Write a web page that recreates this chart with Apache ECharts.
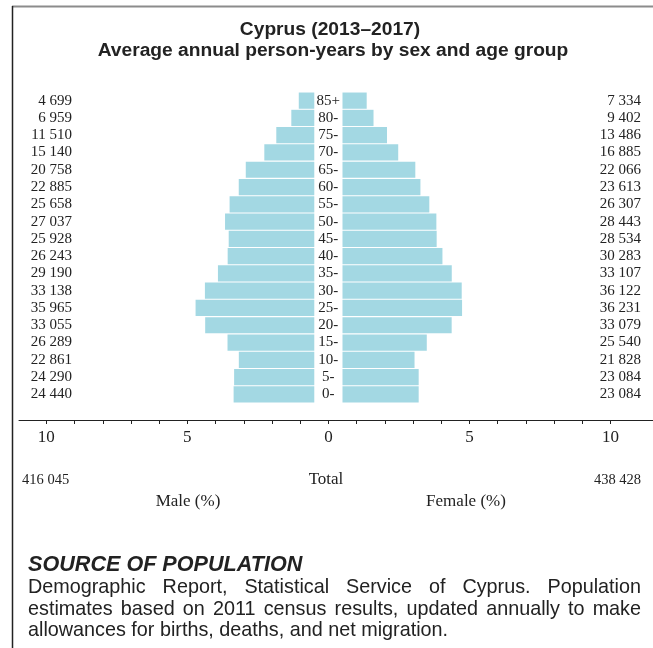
<!DOCTYPE html>
<html><head><meta charset="utf-8">
<script src="https://cdn.jsdelivr.net/npm/echarts@6/dist/echarts.min.js"></script>
<style>html,body{margin:0;padding:0;background:#fff}#c{width:653px;height:648px}</style>
</head><body><div id="c"></div>
<script>
// ---- data ----
const ages = ['85+','80-','75-','70-','65-','60-','55-','50-','45-','40-','35-','30-','25-','20-','15-','10-','5-','0-'];
const maleCounts = [4699,6959,11510,15140,20758,22885,25658,27037,25928,26243,29190,33138,35965,33055,26289,22861,24290,24440];
const femaleCounts = [7334,9402,13486,16885,22066,23613,26307,28443,28534,30283,33107,36122,36231,33079,25540,21828,23084,23084];
const maleTotal = 416045;
const femaleTotal = 438428;
const axisLabelValues = [-10,-5,0,5,10];
const axisTickValues = [-10,-9,-8,-7,-6,-5,-4,-3,-2,-1,0,1,2,3,4,5,6,7,8,9,10];
const titleLines = ['Cyprus (2013\u20132017)','Average annual person-years by sex and age group'];
const sourceHeading = 'SOURCE OF POPULATION';
const sourceLines = [
  'Demographic Report, Statistical Service of Cyprus. Population',
  'estimates based on 2011 census results, updated annually to make',
  'allowances for births, deaths, and net migration.'
];

// ---- styling constants ----
const CENTER_GAP = 0.5;          // % offset of bars from the centre line
const BAR = '#a3d8e3';
const INK = '#222';
const SERIF = '"Liberation Serif", serif';

const grand = maleTotal + femaleTotal;
const fmt = n => String(n).replace(/\B(?=(\d{3})+(?!\d))/g, ' ');
const malePct = maleCounts.map(c => -c / grand * 100);
const femalePct = femaleCounts.map(c => c / grand * 100);

const GRID_LEFT = 19, GRID_TOP = 92, GRID_H = 311;
const AX_MIN = -10.97, AX_MAX = 11.51;

// justified text via canvas measuring
const mctx = document.createElement('canvas').getContext('2d');
function lineEls(text, y, font, x0, x1, justify) {
  mctx.font = font;
  const words = text.split(' ');
  const ws = words.map(w => mctx.measureText(w).width);
  const sum = ws.reduce((a, b) => a + b, 0);
  const gap = justify ? (x1 - x0 - sum) / (words.length - 1) : mctx.measureText(' ').width;
  const out = [];
  let x = x0;
  words.forEach((w, i) => {
    out.push({ type: 'text', x: x, y: y, silent: true,
      style: { text: w, font: font, fill: INK, textAlign: 'left', textVerticalAlign: 'middle' } });
    x += ws[i] + gap;
  });
  return out;
}

const bodyFont = 'normal 19.8px "Liberation Sans"';
const graphics = [
  { type: 'line', silent: true, shape: { x1: 12, y1: 6.5, x2: 653, y2: 6.5 }, style: { stroke: '#8c8c8c', lineWidth: 2 } },
  { type: 'line', silent: true, shape: { x1: 12.5, y1: 6, x2: 12.5, y2: 648 }, style: { stroke: INK, lineWidth: 1.5 } },
  { type: 'text', x: 330, y: 30, silent: true, style: { text: titleLines[0], font: 'bold 19.2px "Liberation Sans"', fill: INK, textAlign: 'center', textVerticalAlign: 'middle' } },
  { type: 'text', x: 333, y: 51, silent: true, style: { text: titleLines[1], font: 'bold 19.2px "Liberation Sans"', fill: INK, textAlign: 'center', textVerticalAlign: 'middle' } },
  { type: 'text', x: 22, y: 480, silent: true, style: { text: fmt(maleTotal), font: 'normal 14.5px "Liberation Serif"', fill: INK, textAlign: 'left', textVerticalAlign: 'middle' } },
  { type: 'text', x: 326, y: 480, silent: true, style: { text: 'Total', font: 'normal 17px "Liberation Serif"', fill: INK, textAlign: 'center', textVerticalAlign: 'middle' } },
  { type: 'text', x: 641, y: 480, silent: true, style: { text: fmt(femaleTotal), font: 'normal 14.5px "Liberation Serif"', fill: INK, textAlign: 'right', textVerticalAlign: 'middle' } },
  { type: 'text', x: 188, y: 502, silent: true, style: { text: 'Male (%)', font: 'normal 17px "Liberation Serif"', fill: INK, textAlign: 'center', textVerticalAlign: 'middle' } },
  { type: 'text', x: 466, y: 502, silent: true, style: { text: 'Female (%)', font: 'normal 17px "Liberation Serif"', fill: INK, textAlign: 'center', textVerticalAlign: 'middle' } },
  { type: 'text', x: 28, y: 565, silent: true, style: { text: sourceHeading, font: 'italic bold 21.6px "Liberation Sans"', fill: INK, textAlign: 'left', textVerticalAlign: 'middle' } }
]
  .concat(lineEls(sourceLines[0], 588, bodyFont, 28, 641, true))
  .concat(lineEls(sourceLines[1], 609.5, bodyFont, 28, 641, true))
  .concat(lineEls(sourceLines[2], 631, bodyFont, 28, 641, false));

const yBase = {
  type: 'category', data: ages, inverse: true, gridIndex: 0,
  axisLine: { show: false }, axisTick: { show: false }, splitLine: { show: false }
};
const labelStyle = { fontFamily: SERIF, fontSize: 15, color: INK };

const chartW = 653;
const option = {
  animation: false,
  backgroundColor: '#fff',
  grid: { left: GRID_LEFT, right: 0, top: GRID_TOP, height: GRID_H, containLabel: false, outerBoundsMode: 'none' },
  xAxis: {
    type: 'value', min: AX_MIN, max: AX_MAX, offset: 17,
    axisLine: { show: true, lineStyle: { color: INK, width: 1 } },
    axisTick: { show: true, length: 4, inside: false, customValues: axisTickValues, lineStyle: { color: INK } },
    axisLabel: { customValues: axisLabelValues, formatter: v => String(Math.abs(v)), margin: 9,
      fontFamily: SERIF, fontSize: 17, color: INK },
    splitLine: { show: false }
  },
  yAxis: [
    Object.assign({}, yBase, { position: 'left',
      axisLabel: Object.assign({}, labelStyle, { align: 'center', margin: GRID_LEFT - 328.3, interval: 0 }) }),
    Object.assign({}, yBase, { position: 'left',
      axisLabel: Object.assign({}, labelStyle, { align: 'right', margin: GRID_LEFT - 72, interval: 0,
        formatter: (v, i) => fmt(maleCounts[i]) }) }),
    Object.assign({}, yBase, { position: 'right',
      axisLabel: Object.assign({}, labelStyle, { align: 'right', margin: 641 - chartW, interval: 0,
        formatter: (v, i) => fmt(femaleCounts[i]) }) })
  ],
  series: [
    { name: 'mOffset', type: 'bar', stack: 'male', silent: true, data: ages.map(() => -CENTER_GAP),
      itemStyle: { color: 'transparent' }, barCategoryGap: '6%', barGap: '-100%' },
    { name: 'Male', type: 'bar', stack: 'male', data: malePct,
      itemStyle: { color: BAR }, barCategoryGap: '6%', barGap: '-100%' },
    { name: 'fOffset', type: 'bar', stack: 'female', silent: true, data: ages.map(() => CENTER_GAP),
      itemStyle: { color: 'transparent' }, barCategoryGap: '6%', barGap: '-100%' },
    { name: 'Female', type: 'bar', stack: 'female', data: femalePct,
      itemStyle: { color: BAR }, barCategoryGap: '6%', barGap: '-100%' }
  ],
  graphic: graphics
};

const chart = echarts.init(document.getElementById('c'), null, { renderer: 'canvas' });
chart.setOption(option);
</script>
</body></html>
